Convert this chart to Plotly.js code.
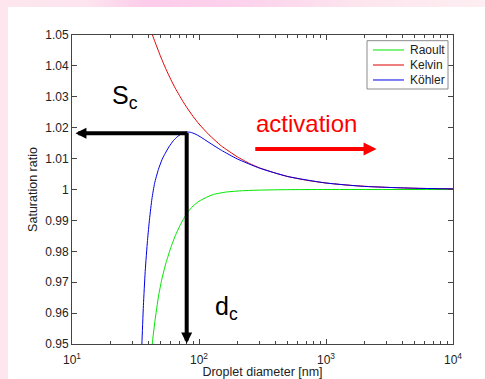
<!DOCTYPE html>
<html>
<head>
<meta charset="utf-8">
<script src="https://cdn.plot.ly/plotly-3.0.1.min.js"></script>
<style>
  html, body { margin: 0; padding: 0; width: 485px; height: 379px; overflow: hidden; }
  body { background: linear-gradient(90deg, #fde6ee 0%, #fde4ee 18%, #fcccea 30%, #fcd2ec 50%, #fde6ee 75%, #fdeef2 100%); }
  #chart { position: absolute; left: 8px; top: 7px; width: 477px; height: 372px; background: #ffffff; }
</style>
</head>
<body>
<div id="chart"></div>
<script>
// Raoult (solute) term
const raoultD = [40, 42, 43.1, 45, 48, 51, 55, 60, 65, 71, 80, 90, 100, 115, 130, 165, 220, 300, 500, 1000, 10000];
const raoultS = [0.935, 0.946, 0.951, 0.9575, 0.9655, 0.971, 0.9763, 0.9812, 0.9850, 0.9884, 0.9922, 0.9947, 0.9962, 0.9975, 0.9984, 0.9992, 0.9996, 0.9998, 0.99995, 1.0, 1.0];

// Kelvin (curvature) term
const kelvinD = [42, 43, 45, 50, 55, 60, 65, 70, 75, 80, 90, 100, 120, 150, 200, 250, 300, 400, 500, 700, 1000, 1500, 2000, 3000, 5000, 10000];
const kelvinS = [1.0513, 1.0500, 1.0478, 1.0429, 1.0389, 1.0356, 1.0328, 1.0305, 1.0284, 1.0266, 1.0236, 1.0212, 1.0177, 1.0141, 1.0106, 1.0084, 1.0070, 1.0053, 1.0042, 1.0030, 1.0021, 1.0014, 1.00105, 1.0007, 1.0004, 1.0002];

// Köhler curve
const kohlerD = [34.5, 35.5, 36.5, 37.7, 39.3, 40.8, 42.6, 44.7, 47.9, 51.3, 54.2, 58, 62.8, 68, 75, 80, 86, 93, 102, 120, 150, 200, 300, 500, 1000, 2000, 5000, 10000];
const kohlerS = [0.935, 0.950, 0.9625, 0.9735, 0.9835, 0.9905, 0.9970, 1.0020, 1.0065, 1.0098, 1.0117, 1.0138, 1.0158, 1.0172, 1.0183, 1.0186, 1.0185, 1.0180, 1.0171, 1.0152, 1.0127, 1.0099, 1.0069, 1.0042, 1.0021, 1.0010, 1.0004, 1.0002];

// critical point
const dCrit = 80;
const sCrit = 1.0182;

// legend labels and colours
const seriesNames = ["Raoult", "Kelvin", "Köhler"];
const seriesColors = ["#00e600", "#e00000", "#0000e6"];

// axis ticks
const xTickVals = [10, 100, 1000, 10000];
const xTickText = ["10<sup>1</sup>", "10<sup>2</sup>", "10<sup>3</sup>", "10<sup>4</sup>"];
const xMinorVals = [20, 30, 40, 50, 60, 70, 80, 90, 200, 300, 400, 500, 600, 700, 800, 900, 2000, 3000, 4000, 5000, 6000, 7000, 8000, 9000];
const yTickVals = [0.95, 0.96, 0.97, 0.98, 0.99, 1.0, 1.01, 1.02, 1.03, 1.04, 1.05];
const yTickText = ["0.95", "0.96", "0.97", "0.98", "0.99", "1", "1.01", "1.02", "1.03", "1.04", "1.05"];

const FONT = "Liberation Sans, Arial, sans-serif";
const L = Math.log10;

const xs = [raoultD, kelvinD, kohlerD];
const ys = [raoultS, kelvinS, kohlerS];
const traces = xs.map((x, i) => ({
  x: x, y: ys[i], name: seriesNames[i], type: "scatter", mode: "lines", showlegend: false,
  line: { color: seriesColors[i], width: 1, shape: "spline", smoothing: 0.5 }
}));

// hand-placed legend box (MATLAB style, compact)
const legBox = { x0: 0.7743, x1: 0.9869, y0: 0.8252, y1: 0.9816 };
const legRowY = [0.9515, 0.9029, 0.8544];
const shapes = [
  { type: "rect", xref: "paper", yref: "paper", x0: legBox.x0, x1: legBox.x1, y0: legBox.y0, y1: legBox.y1,
    line: { color: "#8a8a8a", width: 1 }, fillcolor: "#ffffff", layer: "above" }
];
const legendAnn = [];
seriesNames.forEach((n, i) => {
  shapes.push({ type: "line", xref: "paper", yref: "paper", x0: 0.790, x1: 0.8714, y0: legRowY[i], y1: legRowY[i],
    line: { color: seriesColors[i], width: 1 }, layer: "above" });
  legendAnn.push({ xref: "paper", yref: "paper", x: 0.8819, y: legRowY[i], xanchor: "left", yanchor: "middle",
    text: n, showarrow: false, font: { family: FONT, size: 12, color: "#222222" } });
});

const layout = {
  width: 477, height: 372,
  margin: { l: 64, r: 32, t: 28, b: 35 },
  paper_bgcolor: "#ffffff",
  plot_bgcolor: "#ffffff",
  font: { family: FONT, size: 12, color: "#222222" },
  showlegend: false,
  xaxis: {
    type: "log", range: [1, 4],
    tickmode: "array", tickvals: xTickVals, ticktext: xTickText,
    ticks: "inside", ticklen: 5, tickwidth: 1, tickcolor: "#444444",
    showline: true, linecolor: "#444444", linewidth: 1, mirror: "ticks",
    showgrid: false, zeroline: false, ticklabelposition: "outside", ticklabelstandoff: 5,
    tickfont: { family: FONT, size: 12, color: "#222222" },
    minor: { tickmode: "array", tickvals: xMinorVals, ticks: "inside", ticklen: 3, tickcolor: "#444444", showgrid: false },
    title: { text: "Droplet diameter [nm]", font: { family: FONT, size: 12.5, color: "#222222" }, standoff: 9 },
    automargin: false
  },
  yaxis: {
    range: [0.95, 1.05],
    tickmode: "array", tickvals: yTickVals, ticktext: yTickText,
    ticks: "inside", ticklen: 5, tickwidth: 1, tickcolor: "#444444",
    showline: true, linecolor: "#444444", linewidth: 1, mirror: "ticks",
    showgrid: false, zeroline: false,
    tickfont: { family: FONT, size: 12, color: "#222222" },
    title: { text: "Saturation ratio", font: { family: FONT, size: 12.5, color: "#222222" }, standoff: 4 },
    automargin: false
  },
  shapes: shapes,
  annotations: [
    // horizontal black arrow to S_c
    { x: 1.027, y: sCrit, xref: "x", yref: "y", ax: L(dCrit) + 0.017, ay: sCrit, axref: "x", ayref: "y",
      showarrow: true, arrowhead: 2, arrowsize: 0.55, arrowwidth: 4, arrowcolor: "#000000", text: "" },
    // vertical black arrow to d_c
    { x: L(dCrit), y: 0.9502, xref: "x", yref: "y", ax: L(dCrit), ay: sCrit + 0.0006, axref: "x", ayref: "y",
      showarrow: true, arrowhead: 2, arrowsize: 0.55, arrowwidth: 4, arrowcolor: "#000000", text: "" },
    // red activation arrow
    { x: L(2500), y: 1.0131, xref: "x", yref: "y", ax: L(270), ay: 1.0131, axref: "x", ayref: "y",
      showarrow: true, arrowhead: 2, arrowsize: 0.65, arrowwidth: 4, arrowcolor: "#ff0000", text: "" },
    { x: L(700), y: 1.0212, xref: "x", yref: "y", text: "activation", showarrow: false,
      font: { family: FONT, size: 24, color: "#ff0000" } },
    { x: L(26), y: 1.0300, xref: "x", yref: "y", text: "S<sub>c</sub>", showarrow: false,
      font: { family: FONT, size: 25, color: "#000000" } },
    { x: L(166), y: 0.9615, xref: "x", yref: "y", text: "d<sub>c</sub>", showarrow: false,
      font: { family: FONT, size: 25, color: "#000000" } }
  ].concat(legendAnn)
};

Plotly.newPlot("chart", traces, layout, { displayModeBar: false, staticPlot: true });
</script>
</body>
</html>
